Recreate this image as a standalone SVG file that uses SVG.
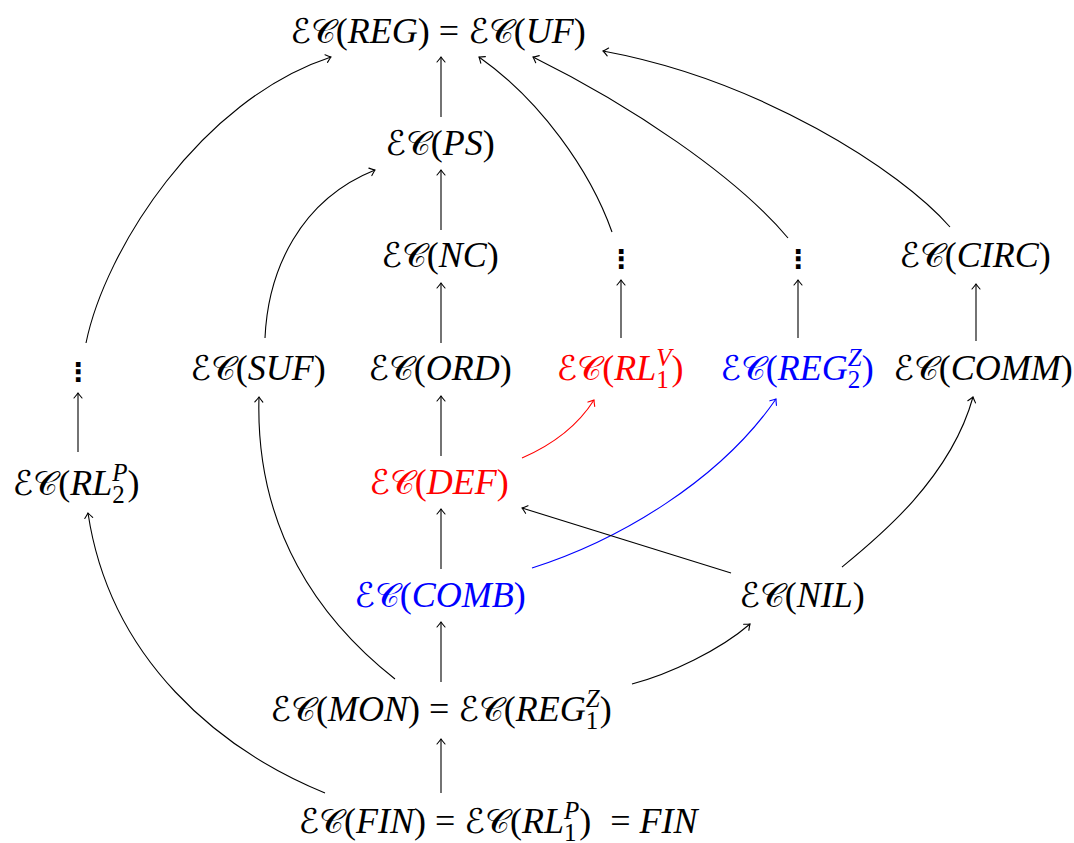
<svg xmlns="http://www.w3.org/2000/svg" width="1074" height="843" viewBox="0 0 1074 843">
  <style>
    .red { fill: #ff0000; }
    .blue { fill: #0000ff; }
    .e { fill: none; stroke: #000; stroke-width: 1.1; marker-end: url(#to); }
    .e.r { stroke: #ff0000; marker-end: url(#to-r); }
    .e.b { stroke: #0000ff; marker-end: url(#to-b); }
  </style>
  <defs>
    <marker id="to" markerUnits="userSpaceOnUse" markerWidth="12" markerHeight="12" refX="0" refY="0" viewBox="-7 -6 9 12" orient="auto">
      <path d="M-5,-4 Q-1.5,-1 0,0 Q-1.5,1 -5,4" fill="none" stroke="#000" stroke-width="1.1" stroke-linecap="round"/>
    </marker>
    <marker id="to-r" markerUnits="userSpaceOnUse" markerWidth="12" markerHeight="12" refX="0" refY="0" viewBox="-7 -6 9 12" orient="auto">
      <path d="M-5,-4 Q-1.5,-1 0,0 Q-1.5,1 -5,4" fill="none" stroke="#ff0000" stroke-width="1.1" stroke-linecap="round"/>
    </marker>
    <marker id="to-b" markerUnits="userSpaceOnUse" markerWidth="12" markerHeight="12" refX="0" refY="0" viewBox="-7 -6 9 12" orient="auto">
      <path d="M-5,-4 Q-1.5,-1 0,0 Q-1.5,1 -5,4" fill="none" stroke="#0000ff" stroke-width="1.1" stroke-linecap="round"/>
    </marker>
  </defs>

  <!-- connectors -->
  <g id="edges">
    <!-- central chain -->
    <path class="e" d="M441,117 V57"/>
    <path class="e" d="M441,230 V170"/>
    <path class="e" d="M441,343 V283"/>
    <path class="e" d="M441,456 V396"/>
    <path class="e" d="M441,569 V509"/>
    <path class="e" d="M441,682 V622"/>
    <path class="e" d="M441,793 V739"/>
    <!-- short verticals -->
    <path class="e" d="M621,338 V280"/>
    <path class="e" d="M798,338 V280"/>
    <path class="e" d="M976,341 V284"/>
    <path class="e" d="M78,452 V393"/>
    <!-- long curves into the top -->
    <path class="e" d="M86,343 C105,250 200,100 331,57"/>
    <path class="e" d="M612,232 C590,170 540,100 479,57"/>
    <path class="e" d="M788,238 C735,175 630,105 533,57"/>
    <path class="e" d="M950,227 C900,170 760,80 603,51"/>
    <!-- SUF to PS -->
    <path class="e" d="M265,338 C268,270 300,200 375,170"/>
    <!-- coloured links -->
    <path class="e r" d="M522,458 C545,448 575,430 594,400"/>
    <path class="e b" d="M532,568 C620,540 720,480 776,399"/>
    <!-- NIL links -->
    <path class="e" d="M731,573 L522,508"/>
    <path class="e" d="M842,567 C875,540 950,480 973,397"/>
    <!-- from MON -->
    <path class="e" d="M395,679 C320,620 255,530 259,397"/>
    <path class="e" d="M632,684 C670,674 720,650 750,624"/>
    <!-- FIN to RL2P -->
    <path class="e" d="M325,793 C220,750 110,660 88,513"/>
  </g>

  <!-- nodes: script letters in DejaVu Sans, math italics in Liberation Serif -->
  <g id="nodes" font-family="Liberation Serif, serif" font-size="36" text-anchor="middle" fill="#000">
    <g id="n-top"><text x="438" y="43"><tspan font-family="DejaVu Sans, sans-serif" font-size="34">ℰ𝒞</tspan>(<tspan font-style="italic">REG</tspan>) = <tspan font-family="DejaVu Sans, sans-serif" font-size="34">ℰ𝒞</tspan>(<tspan font-style="italic">UF</tspan>)</text></g>
    <g id="n-ps"><text x="440" y="155"><tspan font-family="DejaVu Sans, sans-serif" font-size="34">ℰ𝒞</tspan>(<tspan font-style="italic">PS</tspan>)</text></g>
    <g id="n-nc"><text x="440" y="267"><tspan font-family="DejaVu Sans, sans-serif" font-size="34">ℰ𝒞</tspan>(<tspan font-style="italic">NC</tspan>)</text></g>
    <g id="n-dots-rl"><text x="621" y="268" font-family="DejaVu Sans, sans-serif" font-size="26" font-weight="bold">⋮</text></g>
    <g id="n-dots-reg"><text x="798" y="268" font-family="DejaVu Sans, sans-serif" font-size="26" font-weight="bold">⋮</text></g>
    <g id="n-circ"><text x="975" y="267"><tspan font-family="DejaVu Sans, sans-serif" font-size="34">ℰ𝒞</tspan>(<tspan font-style="italic">CIRC</tspan>)</text></g>
    <g id="n-dots-left"><text x="78" y="381" font-family="DejaVu Sans, sans-serif" font-size="26" font-weight="bold">⋮</text></g>
    <g id="n-suf"><text x="258" y="380"><tspan font-family="DejaVu Sans, sans-serif" font-size="34">ℰ𝒞</tspan>(<tspan font-style="italic">SUF</tspan>)</text></g>
    <g id="n-ord"><text x="440" y="380"><tspan font-family="DejaVu Sans, sans-serif" font-size="34">ℰ𝒞</tspan>(<tspan font-style="italic">ORD</tspan>)</text></g>
    <g id="n-rl1v"><text class="red" x="620" y="380"><tspan font-family="DejaVu Sans, sans-serif" font-size="34">ℰ𝒞</tspan>(<tspan font-style="italic">RL</tspan><tspan font-size="25" dy="8">1</tspan><tspan font-size="25" font-style="italic" dx="-12.5" dy="-22">V</tspan><tspan dy="14">)</tspan></text></g>
    <g id="n-reg2z"><text class="blue" x="797" y="380"><tspan font-family="DejaVu Sans, sans-serif" font-size="34">ℰ𝒞</tspan>(<tspan font-style="italic">REG</tspan><tspan font-size="25" dy="8">2</tspan><tspan font-size="25" font-style="italic" dx="-12.5" dy="-22">Z</tspan><tspan dy="14">)</tspan></text></g>
    <g id="n-comm"><text x="983" y="380"><tspan font-family="DejaVu Sans, sans-serif" font-size="34">ℰ𝒞</tspan>(<tspan font-style="italic">COMM</tspan>)</text></g>
    <g id="n-rl2p"><text x="76" y="495"><tspan font-family="DejaVu Sans, sans-serif" font-size="34">ℰ𝒞</tspan>(<tspan font-style="italic">RL</tspan><tspan font-size="25" dy="8">2</tspan><tspan font-size="25" font-style="italic" dx="-12.5" dy="-22">P</tspan><tspan dy="14">)</tspan></text></g>
    <g id="n-def"><text class="red" x="439" y="494"><tspan font-family="DejaVu Sans, sans-serif" font-size="34">ℰ𝒞</tspan>(<tspan font-style="italic">DEF</tspan>)</text></g>
    <g id="n-comb"><text class="blue" x="440" y="607"><tspan font-family="DejaVu Sans, sans-serif" font-size="34">ℰ𝒞</tspan>(<tspan font-style="italic">COMB</tspan>)</text></g>
    <g id="n-nil"><text x="802" y="607"><tspan font-family="DejaVu Sans, sans-serif" font-size="34">ℰ𝒞</tspan>(<tspan font-style="italic">NIL</tspan>)</text></g>
    <g id="n-mon"><text x="441" y="721"><tspan font-family="DejaVu Sans, sans-serif" font-size="34">ℰ𝒞</tspan>(<tspan font-style="italic">MON</tspan>) = <tspan font-family="DejaVu Sans, sans-serif" font-size="34">ℰ𝒞</tspan>(<tspan font-style="italic">REG</tspan><tspan font-size="25" dy="8">1</tspan><tspan font-size="25" font-style="italic" dx="-12.5" dy="-22">Z</tspan><tspan dy="14">)</tspan></text></g>
    <g id="n-fin"><text x="498" y="833"><tspan font-family="DejaVu Sans, sans-serif" font-size="34">ℰ𝒞</tspan>(<tspan font-style="italic">FIN</tspan>) = <tspan font-family="DejaVu Sans, sans-serif" font-size="34">ℰ𝒞</tspan>(<tspan font-style="italic">RL</tspan><tspan font-size="25" dy="8">1</tspan><tspan font-size="25" font-style="italic" dx="-12.5" dy="-22">P</tspan><tspan dy="14">)</tspan><tspan dx="10"> = </tspan><tspan font-style="italic">FIN</tspan></text></g>
  </g>
</svg>
